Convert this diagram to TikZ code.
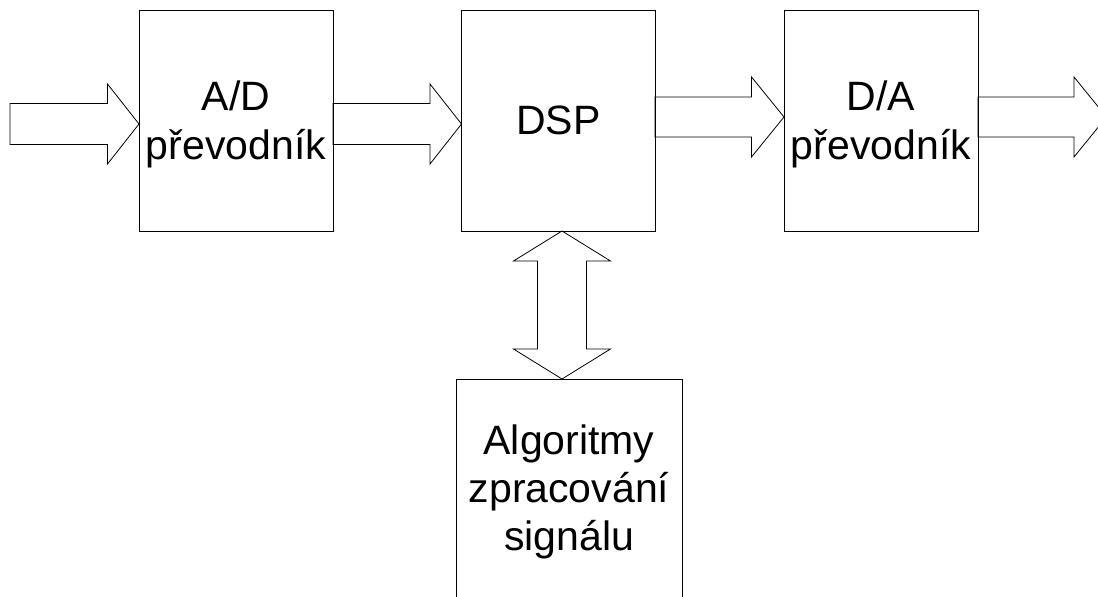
\documentclass[tikz,border=0pt]{standalone}
\usepackage{fontspec}
\setmainfont{Liberation Sans}
\usetikzlibrary{calc}
\tikzset{
  box/.style={draw=black, line width=0.8pt, rectangle, inner sep=0pt, outer sep=0pt, align=center,
    font=\fontsize{41}{48}\selectfont},
  blk/.style={draw=black, line width=0.8pt, line join=miter}
}
\newcommand\hblock[5]{\draw[blk] ($(#1)+(0,-#3)$) -- ($(#2)+(-#5,-#3)$) -- ($(#2)+(-#5,-#4)$) -- (#2) -- ($(#2)+(-#5,#4)$) -- ($(#2)+(-#5,#3)$) -- ($(#1)+(0,#3)$) -- cycle;}
\newcommand\vdouble[5]{\draw[blk] (#1) -- ($(#1)+(#4,#5)$) -- ($(#1)+(#3,#5)$) -- ($(#2)+(#3,-#5)$) -- ($(#2)+(#4,-#5)$) -- (#2) -- ($(#2)+(-#4,-#5)$) -- ($(#2)+(-#3,-#5)$) -- ($(#1)+(-#3,#5)$) -- ($(#1)+(-#4,#5)$) -- cycle;}
\begin{document}
\begin{tikzpicture}[x=1pt,y=-1pt]
\useasboundingbox (0,0) rectangle (1098,597);
\clip (0,0) rectangle (1098,597);
\node[box, minimum width=194pt, minimum height=221pt] (ad) at (236,120.5) {\rule{0pt}{38pt}A/D\\[1pt]převodník};
\node[box, minimum width=193.5pt, minimum height=221pt] (dsp) at (558.25,120.5) {DSP};
\node[box, minimum width=194pt, minimum height=221pt] (da) at (881,120.5) {\rule{0pt}{38pt}D/A\\[1pt]převodník};
\node[box, minimum width=226pt, minimum height=226pt] (algo) at (569,492) {Algoritmy\\zpracování\\signálu};
% input arrow
\coordinate (in0) at (10,124);
\coordinate (t0) at (ad.west |- in0);
\hblock{in0}{t0}{20.5}{40}{31.5}
% A/D -> DSP
\coordinate (s1) at ($(ad.east)+(0,3.5)$);
\coordinate (t1) at (dsp.west |- s1);
\hblock{s1}{t1}{20.5}{40}{31.5}
% DSP -> D/A
\coordinate (s2) at ($(dsp.east)+(0,-3.5)$);
\coordinate (t2) at (da.west |- s2);
\hblock{s2}{t2}{20}{40}{32.5}
% D/A -> output
\coordinate (s3) at ($(da.east)+(0,-3.5)$);
\coordinate (out) at (1106.5,117);
\hblock{s3}{out}{20}{40}{32.5}
% DSP <-> Algoritmy
\coordinate (v1) at ($(dsp.south)+(3.75,0)$);
\coordinate (v2) at (algo.north -| v1);
\vdouble{v1}{v2}{24.5}{48.5}{30}
\end{tikzpicture}
\end{document}
